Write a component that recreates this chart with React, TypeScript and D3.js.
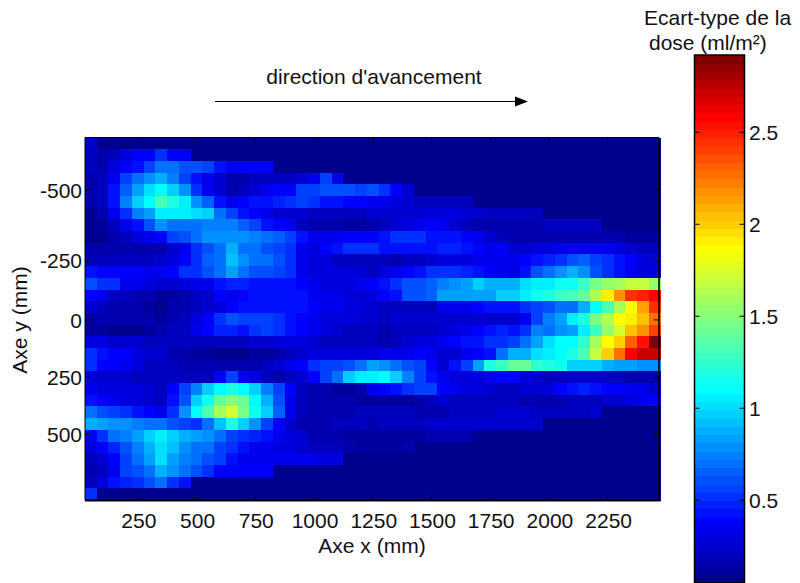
import React from 'react';
import * as d3 from 'd3';

// 49 columns (50 mm steps along x), 31 rows (top to bottom), values in ml/m2
const doseRows: number[][] = [
  [.25,.05,.05,.05,.05,.05,.05,.05,.05,.05, .05,.05,.05,.05,.05,.05,.05,.05,.05,.05, .05,.05,.05,.05,.05,.05,.05,.05,.05,.05, .05,.05,.05,.05,.05,.05,.05,.05,.05,.05, .05,.05,.05,.05,.05,.05,.05,.05,.05],
  [.22,.15,.2,.3,.37,.4,.5,.4,.37,.05, .05,.05,.05,.05,.05,.05,.05,.05,.05,.05, .05,.05,.05,.05,.05,.05,.05,.05,.05,.05, .05,.05,.05,.05,.05,.05,.05,.05,.05,.05, .05,.05,.05,.05,.05,.05,.05,.05,.05],
  [.2,.18,.3,.37,.45,.55,.68,.68,.62,.6, .55,.45,.33,.38,.38,.38,.05,.05,.05,.05, .05,.05,.05,.05,.05,.05,.05,.05,.05,.05, .05,.05,.05,.05,.05,.05,.05,.05,.05,.05, .05,.05,.05,.05,.05,.05,.05,.05,.05],
  [.18,.2,.33,.55,.68,.78,.9,.75,.55,.45, .33,.25,.15,.17,.2,.22,.22,.22,.25,.33, .55,.33,.05,.05,.05,.05,.05,.05,.05,.05, .05,.05,.05,.05,.05,.05,.05,.05,.05,.05, .05,.05,.05,.05,.05,.05,.05,.05,.05],
  [.16,.2,.45,.65,.82,1,1.12,.95,.8,.5, .35,.25,.15,.2,.27,.32,.38,.4,.55,.55, .6,.6,.6,.58,.6,.52,.38,.25,.05,.05, .05,.05,.05,.05,.05,.05,.05,.05,.05,.05, .05,.05,.05,.05,.05,.05,.05,.05,.05],
  [.16,.2,.45,.75,.98,1.1,1.35,1.2,1.08,.8, .65,.45,.33,.37,.42,.45,.47,.5,.55,.5, .45,.42,.4,.38,.35,.33,.28,.24,.22,.22, .22,.22,.2,.05,.05,.05,.05,.05,.05,.05, .05,.05,.05,.05,.05,.05,.05,.05,.05],
  [.08,.18,.33,.5,.75,.85,1.05,1.05,1.05,1, .95,.7,.55,.45,.38,.33,.25,.25,.25,.22, .2,.2,.2,.22,.25,.27,.27,.25,.27,.3, .3,.28,.24,.23,.22,.22,.22,.22,.22,.05, .05,.05,.05,.05,.05,.05,.05,.05,.05],
  [.08,.12,.2,.33,.45,.6,.78,.7,.7,.7, .75,.75,.75,.65,.55,.45,.38,.33,.22,.18, .15,.15,.13,.13,.17,.2,.25,.3,.33,.37, .33,.25,.2,.14,.14,.14,.14,.16,.18,.2, .2,.22,.22,.22,.05,.05,.05,.05,.05],
  [.08,.08,.15,.2,.3,.35,.4,.55,.62,.72, .78,.78,.78,.78,.75,.7,.65,.55,.45,.35, .33,.33,.38,.38,.4,.45,.5,.52,.52,.45, .42,.42,.38,.33,.25,.22,.15,.14,.14,.14, .14,.14,.14,.14,.14,.14,.12,.1,.1],
  [.15,.15,.15,.15,.15,.15,.16,.25,.33,.5, .6,.7,.9,.72,.68,.62,.58,.5,.35,.3, .37,.42,.5,.52,.52,.45,.42,.42,.42,.42, .47,.47,.42,.4,.35,.37,.25,.27,.28,.3, .32,.35,.35,.35,.33,.3,.27,.22,.22],
  [.2,.2,.2,.22,.22,.22,.24,.3,.4,.5, .65,.72,.92,.8,.72,.7,.62,.5,.35,.3, .28,.22,.2,.2,.2,.2,.15,.2,.22,.27, .28,.3,.3,.32,.32,.34,.35,.4,.45,.47, .52,.6,.65,.55,.5,.42,.37,.3,.3],
  [.45,.37,.37,.38,.38,.36,.35,.4,.5,.5, .6,.68,.85,.68,.62,.62,.55,.5,.35,.3, .3,.3,.28,.25,.22,.3,.33,.38,.42,.5, .5,.52,.47,.42,.38,.36,.3,.45,.6,.68, .8,.9,.78,.6,.52,.45,.35,.28,.28],
  [.6,.5,.5,.35,.35,.3,.27,.25,.3,.33, .35,.42,.48,.48,.45,.45,.42,.42,.4,.33, .3,.3,.3,.33,.37,.45,.5,.6,.6,.65, .75,.8,.85,.95,.9,.9,.9,1,1.05,1.08, 1.15,1.15,1.3,1.45,1.55,1.6,1.7,1.7,1.55],
  [.37,.35,.2,.22,.15,.15,.1,.1,.15,.2, .25,.37,.35,.4,.42,.42,.42,.42,.42,.33, .33,.33,.3,.27,.3,.37,.45,.6,.62,.65, .82,.82,.85,.85,.85,.95,.95,1.05,1.15,1.2, 1.3,1.35,1.4,1.65,1.9,2.2,2.45,2.5,2.6],
  [.25,.22,.18,.18,.15,.1,.08,.15,.15,.2, .25,.3,.38,.42,.45,.45,.45,.45,.42,.38, .35,.33,.3,.28,.25,.2,.2,.2,.2,.22, .33,.33,.35,.38,.42,.42,.45,.5,.55,.62, .7,.72,.9,1.1,1.35,1.6,1.85,2.15,2.45],
  [.12,.15,.15,.15,.15,.15,.12,.15,.2,.3, .4,.5,.62,.55,.55,.55,.5,.45,.4,.35, .3,.3,.3,.27,.25,.22,.25,.27,.27,.27, .27,.27,.27,.25,.25,.25,.25,.33,.55,.75, .85,1.05,1.2,1.45,1.65,1.85,1.9,2.05,2.25],
  [.1,.1,.08,.08,.08,.1,.18,.2,.22,.33, .4,.47,.47,.45,.5,.55,.5,.45,.4,.33, .3,.25,.22,.22,.2,.18,.2,.2,.22,.2, .26,.3,.33,.37,.42,.47,.45,.5,.75,.7, .8,.85,1.07,1.3,1.55,1.75,2.05,2.2,2.4],
  [.3,.28,.25,.25,.25,.22,.22,.2,.2,.2, .2,.2,.2,.2,.25,.25,.3,.3,.3,.25, .22,.2,.2,.2,.2,.18,.2,.25,.3,.3, .35,.4,.42,.45,.5,.52,.55,.68,.85,1, 1.1,1.1,1.25,1.6,1.85,2,2.3,2.55,2.9],
  [.5,.45,.4,.37,.3,.25,.25,.15,.15,.12, .1,.08,.08,.08,.1,.12,.18,.22,.25,.3, .3,.3,.3,.3,.3,.35,.35,.35,.37,.33, .27,.25,.33,.37,.42,.7,.9,.9,1,1.05, 1.1,1.2,1.35,1.7,2,2.25,2.6,2.7,2.7],
  [.5,.37,.37,.33,.28,.22,.2,.2,.14,.14, .14,.14,.14,.16,.18,.2,.25,.33,.4,.5, .55,.58,.62,.72,.85,.8,.7,.62,.55,.37, .25,.42,.58,.85,1.2,1.3,1.4,1.4,1.25,1.2, 1.15,.95,.95,.95,.9,.85,.85,.8,.8],
  [.3,.25,.25,.25,.22,.22,.2,.2,.2,.2, .2,.37,.55,.37,.28,.2,.18,.22,.25,.37, .55,.7,.98,1.05,1.08,1.1,.95,.75,.55,.42, .33,.3,.28,.3,.33,.37,.37,.3,.25,.2, .22,.25,.25,.25,.22,.2,.18,.18,.18],
  [.33,.28,.28,.3,.28,.24,.2,.37,.55,.75, .95,1.1,1.2,1.1,.95,.75,.55,.37,.2,.15, .15,.13,.13,.18,.33,.37,.42,.5,.55,.55, .37,.33,.28,.28,.25,.22,.22,.24,.27,.3, .37,.42,.48,.42,.4,.37,.33,.33,.27],
  [.45,.38,.33,.3,.28,.24,.2,.45,.62,.95, 1.15,1.4,1.5,1.4,1.1,.9,.6,.35,.2,.15, .15,.15,.15,.12,.1,.13,.1,.13,.15,.2, .25,.2,.2,.2,.2,.2,.22,.18,.18,.18, .15,.22,.22,.22,.27,.27,.3,.33,.38],
  [.72,.6,.55,.5,.45,.4,.35,.5,.8,1.12, 1.35,1.6,1.75,1.45,1.15,.95,.65,.35,.2,.18, .18,.18,.18,.2,.2,.2,.2,.2,.17,.17, .17,.22,.22,.22,.22,.25,.25,.25,.22,.22, .22,.22,.22,.25,.05,.05,.05,.05,.05],
  [.9,.82,.8,.8,.75,.72,.72,.62,.55,.5, .7,.92,1.2,.98,.8,.55,.37,.25,.15,.18, .18,.2,.2,.2,.18,.2,.2,.2,.2,.24, .24,.24,.24,.24,.24,.24,.24,.24,.24,.05, .05,.05,.05,.05,.05,.05,.05,.05,.05],
  [.38,.5,.68,.75,.85,.95,1.08,.95,.9,.85, .8,.72,.55,.5,.48,.42,.35,.3,.24,.17, .15,.15,.13,.13,.13,.13,.13,.13,.13,.17, .17,.17,.17,.05,.05,.05,.05,.05,.05,.05, .05,.05,.05,.05,.05,.05,.05,.05,.05],
  [.28,.38,.47,.6,.75,.88,1.02,.92,.8,.72, .7,.55,.5,.42,.36,.32,.3,.3,.27,.22, .22,.2,.15,.13,.12,.1,.1,.14,.05,.05, .05,.05,.05,.05,.05,.05,.05,.05,.05,.05, .05,.05,.05,.05,.05,.05,.05,.05,.05],
  [.22,.25,.37,.55,.68,.85,1,.85,.76,.7, .6,.55,.42,.35,.33,.33,.33,.33,.36,.33, .28,.28,.05,.05,.05,.05,.05,.05,.05,.05, .05,.05,.05,.05,.05,.05,.05,.05,.05,.05, .05,.05,.05,.05,.05,.05,.05,.05,.05],
  [.14,.2,.33,.55,.6,.7,.88,.8,.7,.62, .5,.4,.38,.37,.37,.37,.05,.05,.05,.05, .05,.05,.05,.05,.05,.05,.05,.05,.05,.05, .05,.05,.05,.05,.05,.05,.05,.05,.05,.05, .05,.05,.05,.05,.05,.05,.05,.05,.05],
  [.22,.3,.42,.47,.5,.6,.68,.5,.42,.05, .05,.05,.05,.05,.05,.05,.05,.05,.05,.05, .05,.05,.05,.05,.05,.05,.05,.05,.05,.05, .05,.05,.05,.05,.05,.05,.05,.05,.05,.05, .05,.05,.05,.05,.05,.05,.05,.05,.05],
  [.5,.05,.05,.05,.05,.05,.05,.05,.05,.05, .05,.05,.05,.05,.05,.05,.05,.05,.05,.05, .05,.05,.05,.05,.05,.05,.05,.05,.05,.05, .05,.05,.05,.05,.05,.05,.05,.05,.05,.05, .05,.05,.05,.05,.05,.05,.05,.05,.05],
];

const xTicks = [250, 500, 750, 1000, 1250, 1500, 1750, 2000, 2250];
const yTickLabels = ['-500', '-250', '0', '250', '500'];
// y ticks of the original don't sit evenly, so they are given in row units
const yTickRows = [4.49, 10.53, 15.6, 20.5, 25.4];
const colorTicks = [0.5, 1, 1.5, 2, 2.5];

const doseMin = 0.05;
const doseMax = 2.92;
const nLevels = 64;

// matlab style jet, 64 steps
const jetStops = ['#00008f', '#0000ff', '#0080ff', '#00ffff', '#80ff80', '#ffff00', '#ff8000', '#ff0000', '#800000'];
const jetPos = [0, 0.111, 0.238, 0.365, 0.5, 0.635, 0.762, 0.889, 1];
const jet = d3.scaleLinear<string>().domain(jetPos).range(jetStops).interpolate(d3.interpolateRgb);

const levels = d3.range(nLevels);
const levelColors = levels.map((l) => jet(l / (nLevels - 1)));
const doseColor = d3.scaleQuantize<string>().domain([doseMin, doseMax]).range(levelColors);

const WIDTH = 800;
const HEIGHT = 583;
const FONT_SIZE = 21;
const font = '"Liberation Sans", Arial, sans-serif';

const plot = { left: 85, right: 660.5, frameRight: 659, top: 137.5, bottom: 500 };
const bar = { left: 694.5, right: 744.5, top: 55, bottom: 583 };

const App = () => {
  const colIdx = d3.range(doseRows[0].length);
  const rowIdx = d3.range(doseRows.length);

  const x = d3.scaleLinear().domain([25, 2475]).range([plot.left, plot.right]);
  const xCell = d3.scaleBand<number>().domain(colIdx).range([plot.left, plot.right]);
  const yCell = d3.scaleBand<number>().domain(rowIdx).range([plot.top, plot.bottom]);
  const yRow = d3.scaleLinear().domain([0, doseRows.length]).range([plot.top, plot.bottom]);

  const colorY = d3.scaleLinear().domain([doseMin, doseMax]).range([bar.bottom, bar.top]);
  const barBand = d3.scaleBand<number>().domain(levels).range([bar.bottom, bar.top]);

  const tickLen = 5;

  return (
    <svg
      width={WIDTH}
      height={HEIGHT}
      style={{ position: 'absolute', left: 0, top: 0, background: '#fff' }}
      fontFamily={font}
      fontSize={FONT_SIZE}
      fill="#111"
    >
      {/* heatmap */}
      <g shapeRendering="crispEdges">
        {doseRows.map((row, r) =>
          row.map((v, c) => (
            <rect
              key={r + '-' + c}
              x={xCell(c)}
              y={yCell(r)}
              width={xCell.bandwidth() + 0.6}
              height={yCell.bandwidth() + 0.6}
              fill={doseColor(v)}
            />
          ))
        )}
      </g>

      {/* frame and ticks */}
      <g stroke="#000" fill="none">
        <line x1={plot.left} x2={plot.frameRight} y1={plot.top} y2={plot.top} />
        <line x1={plot.left} x2={plot.left} y1={plot.top} y2={plot.bottom} />
        <line x1={plot.frameRight} x2={plot.frameRight} y1={plot.top} y2={plot.bottom} strokeWidth={1.6} />
        <line x1={plot.left} x2={plot.right} y1={plot.bottom + 0.5} y2={plot.bottom + 0.5} strokeWidth={2} />
      </g>
      {xTicks.map((t) => (
        <g key={t} stroke="#000">
          <line x1={x(t)} x2={x(t)} y1={plot.bottom} y2={plot.bottom - tickLen} />
          <line x1={x(t)} x2={x(t)} y1={plot.top} y2={plot.top + tickLen} />
        </g>
      ))}
      {xTicks.map((t) => (
        <text key={t} x={x(t) + 1} y={527.5} textAnchor="middle">
          {t}
        </text>
      ))}
      {yTickRows.map((r, i) => (
        <g key={r}>
          <line x1={plot.left} x2={plot.left + tickLen} y1={yRow(r)} y2={yRow(r)} stroke="#000" />
          <line x1={plot.frameRight} x2={plot.frameRight - tickLen} y1={yRow(r)} y2={yRow(r)} stroke="#000" />
          <text x={82} y={yRow(r) + 7.7} textAnchor="end">
            {yTickLabels[i]}
          </text>
        </g>
      ))}

      <text x={372} y={553} textAnchor="middle">
        Axe x (mm)
      </text>
      <text transform="translate(27,320) rotate(-90)" textAnchor="middle">
        Axe y (mm)
      </text>

      {/* direction arrow */}
      <text x={374} y={84} textAnchor="middle">
        direction d'avancement
      </text>
      <line x1={215} x2={518} y1={101.5} y2={101.5} stroke="#000" strokeWidth={1} />
      <path d={d3.line()([[528, 101.5], [515, 96.5], [515, 106.5]]) + 'Z'} fill="#000" />

      {/* colorbar */}
      <g shapeRendering="crispEdges">
        {levels.map((l) => (
          <rect
            key={l}
            x={bar.left}
            y={barBand(l)}
            width={bar.right - bar.left}
            height={barBand.bandwidth() + 0.6}
            fill={levelColors[l]}
          />
        ))}
      </g>
      <rect
        x={bar.left}
        y={bar.top}
        width={bar.right - bar.left}
        height={bar.bottom - bar.top}
        fill="none"
        stroke="#000"
        strokeWidth={1.5}
      />
      {colorTicks.map((t) => (
        <g key={t}>
          <line x1={bar.left} x2={bar.left + tickLen} y1={colorY(t)} y2={colorY(t)} stroke="#000" />
          <line x1={bar.right} x2={bar.right - tickLen} y1={colorY(t)} y2={colorY(t)} stroke="#000" />
          <text x={749} y={colorY(t) + 7.7}>
            {t}
          </text>
        </g>
      ))}
      <text x={644} y={25}>
        Ecart-type de la
      </text>
      <text x={649} y={50}>
        dose (ml/m²)
      </text>
    </svg>
  );
};

export default App;
